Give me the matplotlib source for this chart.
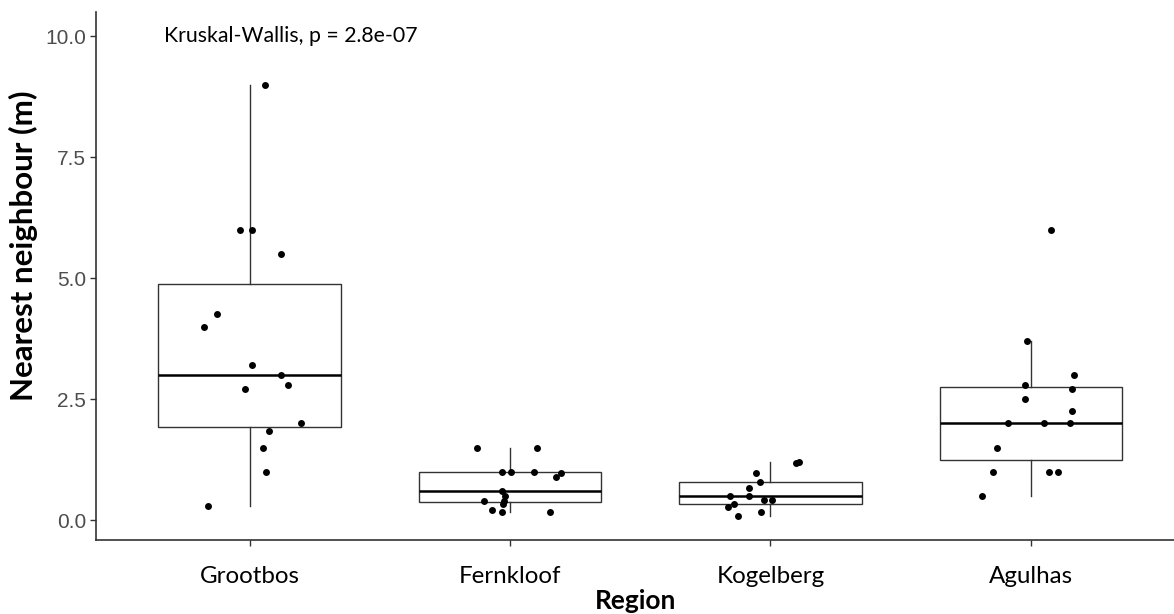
import matplotlib
matplotlib.use("Agg")
import matplotlib.pyplot as plt
import numpy as np

# ---- data ----
regions = ["Grootbos", "Fernkloof", "Kogelberg", "Agulhas"]

grootbos = [9.0, 6.0, 6.0, 5.5, 4.25, 4.0, 3.2, 3.0, 2.8, 2.7, 2.0, 1.85, 1.5, 1.0, 0.3]
fernkloof = [1.5, 1.5, 1.0, 1.0, 1.0, 0.98, 0.9, 0.61, 0.5, 0.4, 0.4, 0.33, 0.2, 0.16, 0.17]
kogelberg = [1.2, 1.18, 0.98, 0.78, 0.67, 0.5, 0.5, 0.42, 0.41, 0.33, 0.27, 0.17, 0.08]
agulhas = [6.0, 3.7, 3.0, 2.8, 2.7, 2.5, 2.25, 2.0, 2.0, 2.0, 1.5, 1.0, 1.0, 1.0, 0.5]

# horizontal jitter offsets (category units) as seen in the reference
jit_grootbos = [0.058, -0.038, 0.009, 0.119, -0.126, -0.175, 0.009, 0.119, 0.147, -0.019,
                0.196, 0.074, 0.051, 0.063, -0.159]
jit_fernkloof = [-0.128, 0.104, -0.03, 0.005, 0.092, 0.195, 0.175, -0.03, -0.02, -0.023,
                 -0.1, -0.026, -0.068, -0.03, 0.155]
jit_kogelberg = [0.111, 0.099, -0.056, -0.04, -0.084, -0.155, -0.084, -0.023, 0.008,
                 -0.141, -0.161, -0.035, -0.123]
jit_agulhas = [0.077, -0.013, 0.166, -0.023, 0.16, -0.023, 0.16, -0.089, 0.05, 0.15,
               -0.128, -0.146, 0.07, 0.104, -0.189]

yticks = [0.0, 2.5, 5.0, 7.5, 10.0]
annot = "Kruskal-Wallis, p = 2.8e-07"
xlabel = "Region"
ylabel = "Nearest neighbour (m)"

groups = [grootbos, fernkloof, kogelberg, agulhas]
jitters = [jit_grootbos, jit_fernkloof, jit_kogelberg, jit_agulhas]

# ---- figure ----
fig = plt.figure(figsize=(11.74, 6.14), dpi=100)
ax = fig.add_axes([96 / 1174, (614 - 540) / 614, (1174 - 96) / 1174, (540 - 12) / 614])

positions = np.arange(1, len(regions) + 1)
line_col = "#333333"
ax.boxplot(groups, positions=positions, widths=0.70, showfliers=False,
           patch_artist=True, whis=1.5,
           boxprops=dict(facecolor="white", edgecolor=line_col, linewidth=1.0),
           whiskerprops=dict(color=line_col, linewidth=1.0),
           capprops=dict(linewidth=0),
           medianprops=dict(color="black", linewidth=1.8),
           zorder=2)

for pos, vals, jit in zip(positions, groups, jitters):
    ax.scatter(pos + np.array(jit), vals, s=25, color="black", zorder=3, linewidths=0)

ax.set_xlim(0.41, 4.55)
ax.set_ylim(-0.41, 10.5)
ax.set_xticks(positions)
ax.set_xticklabels(regions, fontfamily="Lato", fontsize=17.4, color="black")
ax.set_yticks(yticks)
ax.set_yticklabels([f"{v:.1f}" for v in yticks], fontfamily="Liberation Sans",
                   fontsize=15, color="#4D4D4D")
ax.tick_params(axis="x", length=4, width=1.0, color=line_col, pad=15)
ax.tick_params(axis="y", length=4, width=1.0, color=line_col, pad=3)

for s in ["top", "right"]:
    ax.spines[s].set_visible(False)
for s in ["left", "bottom"]:
    ax.spines[s].set_color(line_col)
    ax.spines[s].set_linewidth(1.2)

ax.set_xlabel(xlabel, fontfamily="Lato", fontweight="bold", fontsize=19)
ax.xaxis.set_label_coords((636 - 96) / 1078, (540 - 589) / 528)
ax.xaxis.label.set_va("top")
ax.set_ylabel(ylabel, fontfamily="Lato", fontweight="bold", fontsize=22.5)
ax.yaxis.set_label_coords((38 - 96) / 1078, (540 - 246) / 528)

ax.text(0.67, 10.0, annot, fontfamily="Lato", fontsize=15.3, ha="left", va="center",
        color="black")

fig.savefig("out.png", dpi=100)
